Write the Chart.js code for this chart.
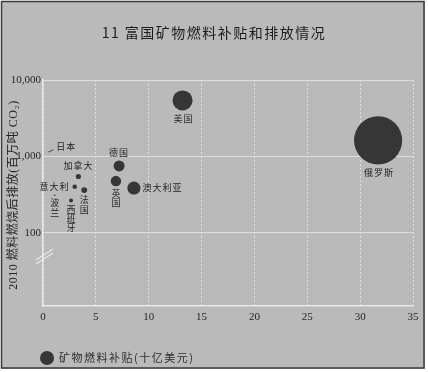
<!DOCTYPE html>
<html>
<head>
<meta charset="utf-8">
<script src="https://cdn.jsdelivr.net/npm/chart.js@4/dist/chart.umd.min.js"></script>
<style>
	html, body { margin: 0; padding: 0; background: #fff; }
	canvas { display: block; }
</style>
</head>
<body>
<canvas id="subsidy-chart" width="428" height="372"></canvas>
<script>
'use strict';

// Data
var countries = [ '美国', '俄罗斯', '德国', '英国', '澳大利亚', '加拿大', '意大利', '法国', '西班牙', '波兰', '日本' ];
var subsidies = [ 13.2, 31.7, 7.2, 6.9, 8.6, 3.35, 3.0, 3.9, 2.65, 1.1, 0.5 ]; // 十亿美元
var emissions = [ 5400, 1620, 750, 475, 385, 545, 400, 362, 265, 310, 1150 ]; // 百万吨 CO2
var xTicks = [ 0, 5, 10, 15, 20, 25, 30, 35 ];
var yTicks = [ 100, 1000, 10000 ];

// where each label sits relative to its bubble
var labelPlace = [ 'below', 'below', 'above', 'down', 'right', 'above', 'left', 'down', 'down', 'down', 'leader' ];

var BG = '#bababa';
var INK = '#262626';
var BUBBLE = '#363636';
var GRID = '#dedede';
var CJK = '"Noto Sans CJK SC", sans-serif';
var SERIF = '"Liberation Serif", "Noto Sans CJK SC", serif';
var RADIUS_PER_UNIT = 0.76;

var points = subsidies.map(function(s, i) {
	return { x: s, y: emissions[i], r: Math.max(s * RADIUS_PER_UNIT, 0.6) };
});

// background, frame, title, axis title, legend, axis break
var decorPlugin = {
	id: 'decor',
	beforeDraw: function(chart) {
		var c = chart.ctx;
		c.save();
		c.fillStyle = '#fff';
		c.fillRect(0, 0, chart.width, chart.height);
		c.fillStyle = BG;
		c.fillRect(1, 1, 424, 368);
		c.strokeStyle = '#3a3a3a';
		c.lineWidth = 1.5;
		c.strokeRect(1.5, 1.5, 422.5, 366.5);
		c.restore();
	},
	afterDraw: function(chart) {
		var c = chart.ctx;
		var area = chart.chartArea;
		c.save();

		// title
		c.fillStyle = '#1c1c1c';
		c.font = '14px ' + CJK;
		c.textAlign = 'center';
		c.textBaseline = 'middle';
		c.letterSpacing = '1.5px';
		c.fillText('11 富国矿物燃料补贴和排放情况', 214, 33);

		// y axis title
		c.save();
		c.translate(14, 195);
		c.rotate(-Math.PI / 2);
		c.font = '12px ' + SERIF;
		c.letterSpacing = '0.5px';
		c.fillStyle = INK;
		c.fillText('2010 燃料燃烧后排放(百万吨 CO₂)', 0, 0);
		c.restore();

		// axis break marks
		c.strokeStyle = '#e6e6e6';
		c.lineWidth = 1.2;
		c.beginPath();
		c.moveTo(area.left - 7, 260);
		c.lineTo(area.left + 10, 249);
		c.moveTo(area.left - 7, 264);
		c.lineTo(area.left + 10, 253);
		c.stroke();

		// legend
		c.fillStyle = BUBBLE;
		c.beginPath();
		c.arc(47, 358, 7, 0, Math.PI * 2);
		c.fill();
		c.fillStyle = '#2e2e2e';
		c.font = '11px ' + CJK;
		c.textAlign = 'left';
		c.letterSpacing = '1.5px';
		c.fillText('矿物燃料补贴(十亿美元)', 59, 358);
		c.restore();
	}
};

// country labels next to each bubble
var labelPlugin = {
	id: 'countryLabels',
	afterDatasetsDraw: function(chart) {
		var c = chart.ctx;
		var xs = chart.scales.x;
		var ys = chart.scales.y;
		c.save();
		c.fillStyle = INK;
		c.font = '9px ' + CJK;
		c.textBaseline = 'middle';
		c.letterSpacing = '1px';
		countries.forEach(function(name, i) {
			var cx = xs.getPixelForValue(subsidies[i]);
			var cy = ys.getPixelForValue(emissions[i]);
			var r = points[i].r;
			var place = labelPlace[i];
			if (place === 'below') {
				c.textAlign = 'center';
				c.fillText(name, cx + 1, cy + r + 8);
			} else if (place === 'above') {
				c.textAlign = 'center';
				c.fillText(name, cx, cy - r - 8);
			} else if (place === 'right') {
				c.textAlign = 'left';
				c.fillText(name, cx + r + 2, cy);
			} else if (place === 'left') {
				c.textAlign = 'right';
				c.fillText(name, cx - r - 3, cy);
			} else if (place === 'down') {
				c.textAlign = 'center';
				name.split('').forEach(function(ch, k) {
					c.fillText(ch, cx + 0.5, cy + r + 7 + k * 9.3);
				});
			} else if (place === 'leader') {
				c.strokeStyle = INK;
				c.lineWidth = 0.8;
				c.beginPath();
				c.moveTo(cx + 1, cy);
				c.lineTo(cx + 5, cy - 2);
				c.stroke();
				c.textAlign = 'left';
				c.fillText(name, cx + 8, cy - 5);
			}
		});
		c.restore();
	}
};

var ctx = document.getElementById('subsidy-chart');
new Chart(ctx, {
	type: 'bubble',
	data: {
		datasets: [ {
			label: '矿物燃料补贴(十亿美元)',
			data: points,
			backgroundColor: BUBBLE,
			borderWidth: 0,
			hoverBorderWidth: 0
		} ]
	},
	options: {
		responsive: false,
		animation: false,
		devicePixelRatio: 1,
		events: [],
		layout: {
			autoPadding: false,
			padding: { top: 80, right: 15, bottom: 40, left: 0 }
		},
		plugins: {
			legend: { display: false },
			tooltip: { enabled: false }
		},
		scales: {
			x: {
				type: 'linear',
				min: 0,
				max: 35,
				afterBuildTicks: function(scale) {
					scale.ticks = xTicks.map(function(v) { return { value: v }; });
				},
				afterFit: function(scale) {
					scale.height = 26;
				},
				ticks: {
					padding: 5,
					color: INK,
					font: { family: 'Liberation Serif', size: 11 }
				},
				grid: { color: GRID, lineWidth: 1, drawTicks: false },
				border: { display: true, color: '#e8e8e8', width: 1.5, dash: [ 2, 2 ] }
			},
			y: {
				type: 'logarithmic',
				min: 11,
				max: 10000,
				afterBuildTicks: function(scale) {
					scale.ticks = yTicks.map(function(v) { return { value: v }; });
				},
				afterFit: function(scale) {
					scale.width = 43;
				},
				ticks: {
					padding: 2,
					color: INK,
					font: { family: 'Liberation Serif', size: 11 },
					callback: function(value) {
						return Number(value).toLocaleString('en-US');
					}
				},
				grid: { color: GRID, lineWidth: 1, drawTicks: false },
				border: { display: true, color: '#e8e8e8', width: 1.5 }
			}
		}
	},
	plugins: [ decorPlugin, labelPlugin ]
});
</script>
</body>
</html>
